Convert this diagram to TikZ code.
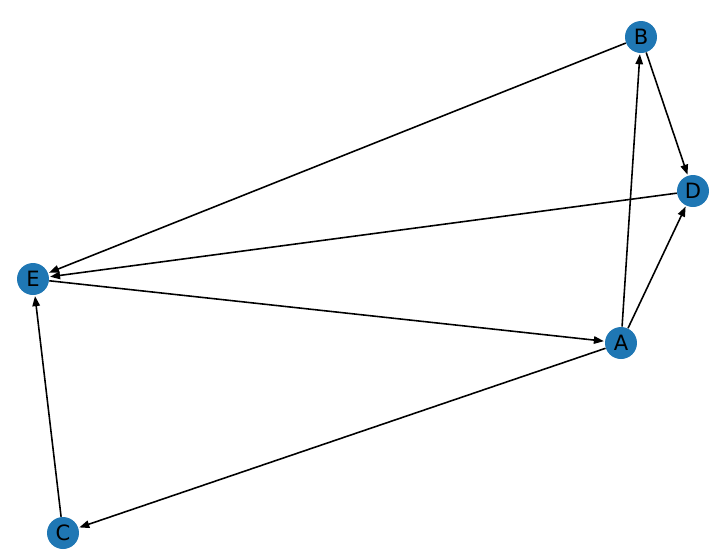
\documentclass[tikz,border=0pt]{standalone}
\usepackage{fontspec}
\setmainfont{DejaVu Sans}
\usetikzlibrary{arrows.meta}
\definecolor{nxblue}{RGB}{31,119,180}
\tikzstyle{vertex} = [circle, minimum size=0.64cm, inner sep=0pt, fill=nxblue, font=\fontsize{12}{14}\selectfont]
\tikzstyle{arrow}  = [line width=0.9pt, -{Stealth[length=0.2cm, width=0.15cm, inset=0pt]}, shorten >=0.5pt]

\begin{document}
\begin{tikzpicture}[x=0.02cm, y=-0.02cm]
                \useasboundingbox (0,0) rectangle (718,556);
                \node (b) [vertex] at (641,37)  {B};
                \node (d) [vertex] at (693,191) {D};
                \node (e) [vertex] at (33,279)  {E};
                \node (a) [vertex] at (621,343) {A};
                \node (c) [vertex] at (63,533)  {C};
                \draw[arrow] (b)--(d); \draw[arrow] (b)--(e);
                \draw[arrow] (d)--(e); \draw[arrow] (e)--(a);
                \draw[arrow] (a)--(b); \draw[arrow] (a)--(d);
                \draw[arrow] (a)--(c); \draw[arrow] (c)--(e);
            \end{tikzpicture}
\end{document}
